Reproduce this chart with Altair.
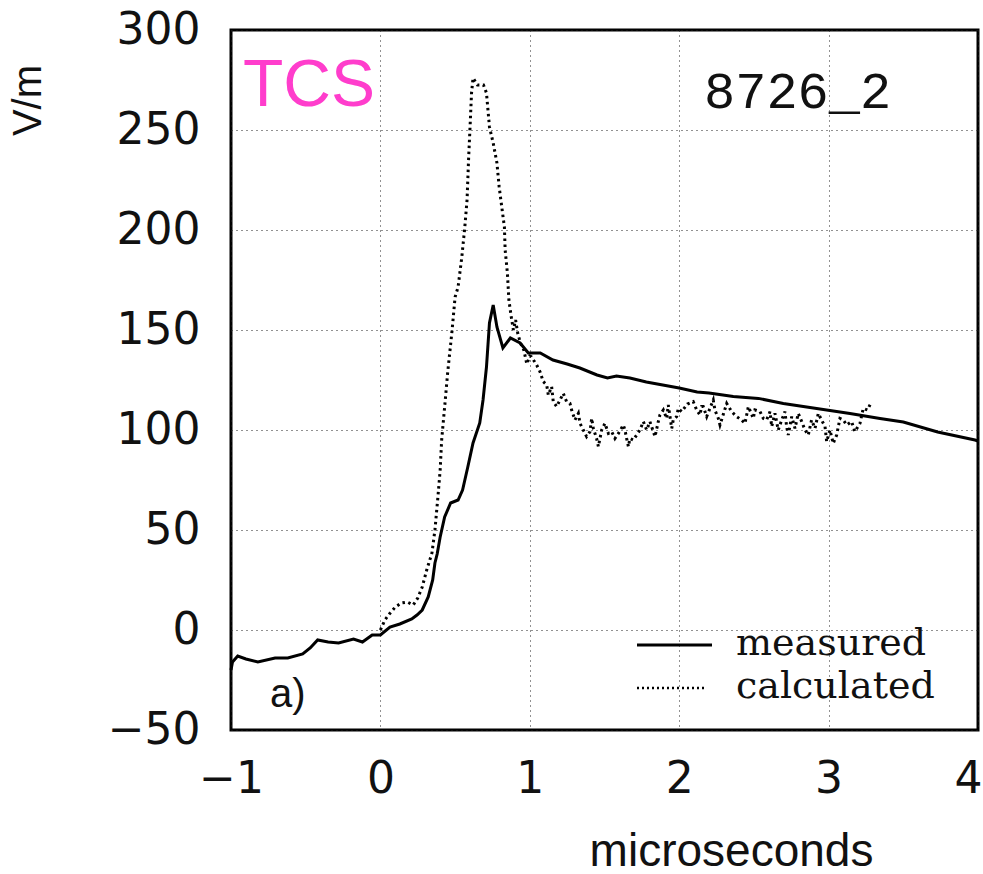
import altair as alt
import pandas as pd

# ---- data ----
meas_x = [-1.0, -0.99, -0.955, -0.90, -0.82, -0.705, -0.62, -0.52, -0.47, -0.42,
          -0.35, -0.28, -0.18, -0.12, -0.055, 0.0, 0.064, 0.13, 0.21, 0.245,
          0.28, 0.32, 0.35, 0.365, 0.38, 0.40, 0.43, 0.47, 0.52, 0.55,
          0.585, 0.62, 0.665, 0.687, 0.71, 0.73, 0.755, 0.78, 0.82, 0.87,
          0.935, 0.99, 1.07, 1.155, 1.25, 1.335, 1.45, 1.52, 1.58, 1.67,
          1.78, 1.89, 2.0, 2.12, 2.2, 2.362, 2.53, 2.697, 2.92, 3.143,
          3.344, 3.50, 3.73, 3.98, 4.0]
meas_y = [-20, -16, -13, -14.5, -16, -14, -14, -12, -9, -5,
          -6, -6.5, -4.5, -6, -2.5, -2.5, 1.5, 3, 5.5, 7.5,
          10, 16.5, 25, 33.5, 38, 46.5, 56.5, 63.5, 65, 70,
          81.5, 93.5, 103.5, 115, 131.5, 153.5, 162.5, 151.5, 141, 146,
          143.5, 138.5, 138.5, 135, 133, 131, 127.5, 126, 127, 126,
          124, 122.5, 121, 119, 118.5, 116.7, 115.8, 113.3, 110.8, 108.3,
          105.8, 104, 99, 95, 94.5]

calc_x = [0.0, 0.03, 0.06, 0.10, 0.14, 0.18, 0.22, 0.25, 0.28, 0.31,
          0.345, 0.365, 0.385, 0.40, 0.41, 0.43, 0.45, 0.48, 0.50, 0.52,
          0.545, 0.565, 0.58, 0.59, 0.60, 0.61, 0.62, 0.65, 0.69, 0.71,
          0.72, 0.73, 0.755, 0.78, 0.795, 0.815, 0.83, 0.835, 0.85, 0.86,
          0.875, 0.89, 0.905, 0.92, 0.94, 0.96, 0.98, 1.0,
          1.01, 1.046, 1.068, 1.09, 1.113, 1.124, 1.146, 1.157, 1.18, 1.202,
          1.224, 1.246, 1.269, 1.28, 1.302, 1.325, 1.336, 1.358, 1.38, 1.403,
          1.414, 1.425, 1.447, 1.459, 1.481, 1.503, 1.526, 1.548, 1.57, 1.593,
          1.626, 1.637, 1.648, 1.66, 1.67, 1.693, 1.737, 1.76, 1.782, 1.804,
          1.838, 1.86, 1.871, 1.894, 1.916, 1.927, 1.95, 1.96, 1.983, 1.994,
          2.016, 2.055, 2.094, 2.117, 2.139, 2.15, 2.161,
          2.184, 2.228, 2.239, 2.262, 2.273, 2.318, 2.351, 2.384, 2.418, 2.44,
          2.463, 2.496, 2.507, 2.541, 2.563, 2.585, 2.608, 2.619, 2.641, 2.663,
          2.686, 2.708, 2.719, 2.73, 2.753, 2.775, 2.797, 2.82, 2.842, 2.864,
          2.886, 2.909, 2.931, 2.953, 2.976, 2.987, 3.009, 3.031, 3.054, 3.076,
          3.098, 3.121, 3.154, 3.176, 3.21, 3.232, 3.26, 3.28]
calc_y = [0, 5, 8, 11.5, 13.5, 14, 12.5, 16, 21.5, 30,
          38.5, 50, 66.5, 80, 95, 111.5, 128.5, 150, 166.5, 171.5,
          186.5, 201.5, 215, 235, 251.5, 268.5, 276, 272.5, 272.5, 268.5,
          260, 251.5, 243.5, 233.5, 221.5, 210, 201.5, 190, 178.5, 165,
          157, 150, 155, 148, 143, 140, 133, 137,
          136.7, 132.5, 129.2, 124.2, 122.5, 117.5, 121.7, 114.2, 111.7, 115,
          118.3, 114.2, 113.3, 110, 105, 108.3, 103.3, 100, 96.7, 99.2,
          105.8, 100.8, 95.8, 91.7, 100, 103.3, 98.3, 99.2, 95.8, 98.3,
          102.5, 100, 95.8, 91.7, 95.8, 95, 100, 104.2, 100, 104.2,
          96.7, 104.2, 107.5, 110, 105.8, 112.5, 100.8, 105, 106.7, 110.8,
          109.2, 113, 114.2, 110, 107.5, 111.7, 111.7,
          106.7, 115, 110, 105.8, 102.5, 113.3, 109.2, 106.7, 105, 103.3,
          111.7, 105.8, 110, 109.2, 105.8, 105, 109.2, 101.7, 108.3, 100,
          105, 109.2, 101.7, 97.5, 106.7, 100.8, 108.3, 104.2, 100, 97.5,
          105, 100.8, 108.3, 105, 101.7, 94.2, 100, 93.3, 97.5, 105.8,
          105, 102.5, 104.2, 99.2, 103.3, 110.8, 110, 113]

x_ticks = [-1, 0, 1, 2, 3, 4]
y_ticks = [-50, 0, 50, 100, 150, 200, 250, 300]
x_title = "microseconds"
y_title = "V/m"
series_names = ["measured", "calculated"]
panel_tag = "TCS"
run_id = "8726_2"
panel_letter = "a)"

W, H = 747, 700

meas = pd.DataFrame({"t": meas_x, "v": meas_y, "o": list(range(len(meas_x)))})
calc = pd.DataFrame({"t": calc_x, "v": calc_y, "o": list(range(len(calc_x)))})

x_enc = alt.X("t:Q", scale=alt.Scale(domain=[-1, 4], nice=False, zero=False),
              axis=alt.Axis(values=x_ticks, title=x_title, grid=True,
                            gridDash=[1, 4], gridColor="#222", gridWidth=1,
                            domain=False, ticks=False, tickSize=0,
                            labelFont="DejaVu Sans", labelFontSize=44,
                            labelColor="#111", labelPadding=27,
                            labelFlush=False, labelOverlap=False,
                            labelOffset={"condition": {"test": "datum.value >= 4", "value": -10},
                                         "value": 0},
                            titleFont="Liberation Sans", titleFontSize=46,
                            titleFontWeight="normal", titleColor="#111",
                            titleX=500, titleY=135, titleAlign="center",
                            titleBaseline="alphabetic"))
y_enc = alt.Y("v:Q", scale=alt.Scale(domain=[-50, 300], nice=False, zero=False),
              axis=alt.Axis(values=y_ticks, title=y_title, grid=True,
                            gridDash=[1, 4], gridColor="#222", gridWidth=1,
                            domain=False, ticks=False, tickSize=0,
                            labelFont="DejaVu Sans", labelFontSize=44,
                            labelColor="#111", labelPadding=31,
                            labelFlush=False, labelOverlap=False,
                            labelBaseline="middle",
                            titleFont="Liberation Sans", titleFontSize=40,
                            titleFontWeight="normal", titleColor="#111",
                            titleAngle=270, titleX=-203, titleY=70,
                            titleAlign="center", titleBaseline="middle"))

meas_line = alt.Chart(meas).mark_line(color="black", strokeWidth=3).encode(
    x=x_enc, y=y_enc, order="o:Q")
calc_line = alt.Chart(calc).mark_line(color="black", strokeWidth=3,
                                      strokeDash=[2.5, 3.5]).encode(
    x=x_enc, y=y_enc, order="o:Q")

one = alt.Data(values=[{"k": 1}])

def label(txt, px, py, font, size, color="#111", weight="normal"):
    return alt.Chart(one).mark_text(text=txt, align="left", baseline="alphabetic",
                                    font=font, fontSize=size, color=color,
                                    fontWeight=weight).encode(
        x=alt.value(px), y=alt.value(py))

tcs = label(panel_tag, 12, 76, "Liberation Sans", 66, color="#ff3dcc")
rid = label(run_id, 473, 78, "Liberation Mono", 52)
lett = label(panel_letter, 39, 677, "Liberation Sans", 40)
leg1 = label(series_names[0], 505, 625, "DejaVu Serif", 38)
leg2 = label(series_names[1], 505, 668, "DejaVu Serif", 38)

rule1 = alt.Chart(one).mark_rule(color="black", strokeWidth=3).encode(
    x=alt.value(406), x2=alt.value(481), y=alt.value(615))
rule2 = alt.Chart(one).mark_rule(color="black", strokeWidth=2.5,
                                 strokeDash=[2, 3]).encode(
    x=alt.value(406), x2=alt.value(476), y=alt.value(658))

chart = alt.layer(meas_line, calc_line, rule1, rule2, tcs, rid, lett, leg1, leg2).properties(
    width=W, height=H,
    autosize=alt.AutoSizeParams(type="none"),
    padding={"left": 231, "top": 30, "right": 5, "bottom": 144},
    background="white",
).configure_view(stroke="black", strokeWidth=3)

chart.save("out.html", embed_options={"renderer": "svg", "actions": False})
